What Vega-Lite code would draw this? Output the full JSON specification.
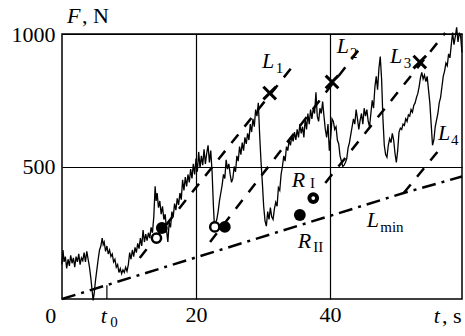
{
"$schema":"https://vega.github.io/schema/vega-lite/v6.json",
"width":400,"height":265,
"autosize":{"type":"none"},
"padding":{"left":62,"top":34,"right":3,"bottom":37},
"background":"white",
"config":{"view":{"stroke":"black","strokeWidth":1.5},"font":"Liberation Serif","axis":{"labelFont":"Liberation Serif"}},
"datasets":{
"force":[
{"t":0.0,"F":130},{"t":0.15,"F":185},{"t":0.3,"F":140},{"t":0.5,"F":160},{"t":0.7,"F":115},{"t":0.9,"F":150},{"t":1.1,"F":125},{"t":1.3,"F":165},{"t":1.5,"F":135},{"t":1.7,"F":155},{"t":1.9,"F":120},{"t":2.1,"F":160},{"t":2.3,"F":140},{"t":2.5,"F":170},{"t":2.7,"F":130},{"t":2.9,"F":155},{"t":3.1,"F":145},{"t":3.3,"F":175},{"t":3.5,"F":140},{"t":3.7,"F":180},{"t":3.9,"F":150},{"t":4.1,"F":120},{"t":4.3,"F":80},{"t":4.5,"F":30},{"t":4.65,"F":-5},{"t":4.8,"F":20},{"t":5.0,"F":70},{"t":5.2,"F":110},{"t":5.4,"F":150},{"t":5.6,"F":185},{"t":5.8,"F":200},{"t":6.0,"F":230},{"t":6.15,"F":205},{"t":6.3,"F":215},{"t":6.5,"F":180},{"t":6.7,"F":200},{"t":6.9,"F":170},{"t":7.1,"F":185},{"t":7.3,"F":160},{"t":7.5,"F":170},{"t":7.7,"F":140},{"t":7.9,"F":150},{"t":8.1,"F":120},{"t":8.3,"F":130},{"t":8.5,"F":100},{"t":8.7,"F":115},{"t":8.9,"F":95},{"t":9.1,"F":110},{"t":9.3,"F":100},{"t":9.5,"F":120},{"t":9.7,"F":105},{"t":9.9,"F":130},{"t":10.1,"F":175},{"t":10.3,"F":150},{"t":10.5,"F":185},{"t":10.7,"F":160},{"t":10.9,"F":195},{"t":11.1,"F":175},{"t":11.3,"F":210},{"t":11.5,"F":190},{"t":11.7,"F":230},{"t":11.9,"F":200},{"t":12.1,"F":260},{"t":12.3,"F":215},{"t":12.5,"F":245},{"t":12.7,"F":220},{"t":12.9,"F":250},{"t":13.1,"F":230},{"t":13.3,"F":270},{"t":13.5,"F":250},{"t":13.7,"F":310},{"t":13.9,"F":425},{"t":14.05,"F":370},{"t":14.2,"F":400},{"t":14.4,"F":345},{"t":14.6,"F":370},{"t":14.8,"F":320},{"t":15.0,"F":350},{"t":15.2,"F":300},{"t":15.4,"F":320},{"t":15.6,"F":260},{"t":15.8,"F":215},{"t":16.0,"F":290},{"t":16.2,"F":270},{"t":16.4,"F":330},{"t":16.6,"F":310},{"t":16.8,"F":360},{"t":17.0,"F":335},{"t":17.2,"F":380},{"t":17.4,"F":355},{"t":17.6,"F":400},{"t":17.8,"F":375},{"t":18.0,"F":450},{"t":18.2,"F":410},{"t":18.4,"F":460},{"t":18.6,"F":425},{"t":18.8,"F":470},{"t":19.0,"F":440},{"t":19.2,"F":490},{"t":19.4,"F":455},{"t":19.6,"F":510},{"t":19.8,"F":470},{"t":20.0,"F":530},{"t":20.2,"F":480},{"t":20.4,"F":555},{"t":20.6,"F":495},{"t":20.8,"F":540},{"t":21.0,"F":505},{"t":21.2,"F":565},{"t":21.4,"F":510},{"t":21.6,"F":550},{"t":21.8,"F":580},{"t":22.0,"F":515},{"t":22.2,"F":560},{"t":22.4,"F":480},{"t":22.6,"F":350},{"t":22.75,"F":275},{"t":22.9,"F":285},{"t":23.1,"F":300},{"t":23.3,"F":330},{"t":23.5,"F":370},{"t":23.7,"F":400},{"t":23.9,"F":430},{"t":24.1,"F":470},{"t":24.3,"F":455},{"t":24.5,"F":525},{"t":24.7,"F":490},{"t":24.9,"F":510},{"t":25.1,"F":470},{"t":25.3,"F":440},{"t":25.5,"F":455},{"t":25.7,"F":500},{"t":25.9,"F":480},{"t":26.1,"F":540},{"t":26.3,"F":520},{"t":26.5,"F":575},{"t":26.7,"F":545},{"t":26.9,"F":590},{"t":27.1,"F":560},{"t":27.3,"F":610},{"t":27.5,"F":585},{"t":27.7,"F":625},{"t":27.9,"F":600},{"t":28.1,"F":660},{"t":28.3,"F":630},{"t":28.5,"F":680},{"t":28.7,"F":650},{"t":28.9,"F":715},{"t":29.1,"F":690},{"t":29.3,"F":740},{"t":29.5,"F":620},{"t":29.7,"F":520},{"t":29.9,"F":440},{"t":30.1,"F":350},{"t":30.3,"F":295},{"t":30.5,"F":275},{"t":30.7,"F":330},{"t":30.9,"F":300},{"t":31.1,"F":345},{"t":31.3,"F":310},{"t":31.5,"F":300},{"t":31.7,"F":340},{"t":31.9,"F":365},{"t":32.1,"F":350},{"t":32.3,"F":420},{"t":32.5,"F":410},{"t":32.7,"F":470},{"t":32.9,"F":500},{"t":33.1,"F":540},{"t":33.3,"F":520},{"t":33.5,"F":575},{"t":33.7,"F":560},{"t":33.9,"F":600},{"t":34.1,"F":580},{"t":34.3,"F":615},{"t":34.5,"F":595},{"t":34.7,"F":630},{"t":34.9,"F":600},{"t":35.1,"F":640},{"t":35.3,"F":610},{"t":35.5,"F":660},{"t":35.7,"F":625},{"t":35.9,"F":650},{"t":36.1,"F":610},{"t":36.3,"F":680},{"t":36.5,"F":640},{"t":36.7,"F":700},{"t":36.9,"F":660},{"t":37.1,"F":715},{"t":37.3,"F":680},{"t":37.5,"F":720},{"t":37.7,"F":700},{"t":37.9,"F":780},{"t":38.1,"F":690},{"t":38.3,"F":670},{"t":38.5,"F":720},{"t":38.7,"F":700},{"t":38.9,"F":745},{"t":39.1,"F":690},{"t":39.3,"F":640},{"t":39.5,"F":610},{"t":39.7,"F":660},{"t":39.9,"F":560},{"t":40.1,"F":610},{"t":40.3,"F":680},{"t":40.5,"F":670},{"t":40.7,"F":640},{"t":40.9,"F":650},{"t":41.1,"F":600},{"t":41.3,"F":585},{"t":41.5,"F":540},{"t":41.7,"F":520},{"t":41.9,"F":500},{"t":42.1,"F":505},{"t":42.3,"F":515},{"t":42.5,"F":530},{"t":42.7,"F":570},{"t":42.9,"F":590},{"t":43.1,"F":620},{"t":43.3,"F":650},{"t":43.5,"F":680},{"t":43.7,"F":660},{"t":43.9,"F":715},{"t":44.1,"F":680},{"t":44.3,"F":640},{"t":44.5,"F":675},{"t":44.7,"F":700},{"t":44.9,"F":660},{"t":45.1,"F":720},{"t":45.3,"F":690},{"t":45.5,"F":715},{"t":45.7,"F":670},{"t":45.9,"F":650},{"t":46.1,"F":700},{"t":46.3,"F":750},{"t":46.5,"F":720},{"t":46.7,"F":800},{"t":46.9,"F":840},{"t":47.1,"F":790},{"t":47.3,"F":870},{"t":47.5,"F":915},{"t":47.7,"F":830},{"t":47.9,"F":680},{"t":48.1,"F":580},{"t":48.3,"F":545},{"t":48.5,"F":535},{"t":48.7,"F":580},{"t":48.9,"F":605},{"t":49.1,"F":590},{"t":49.3,"F":625},{"t":49.5,"F":600},{"t":49.7,"F":550},{"t":49.9,"F":515},{"t":50.1,"F":560},{"t":50.3,"F":630},{"t":50.5,"F":645},{"t":50.7,"F":640},{"t":50.9,"F":660},{"t":51.1,"F":655},{"t":51.3,"F":680},{"t":51.5,"F":670},{"t":51.7,"F":695},{"t":51.9,"F":690},{"t":52.1,"F":715},{"t":52.3,"F":705},{"t":52.5,"F":730},{"t":52.7,"F":740},{"t":52.9,"F":760},{"t":53.1,"F":775},{"t":53.3,"F":800},{"t":53.5,"F":835},{"t":53.7,"F":855},{"t":53.9,"F":830},{"t":54.1,"F":845},{"t":54.3,"F":820},{"t":54.5,"F":840},{"t":54.7,"F":790},{"t":54.9,"F":740},{"t":55.1,"F":660},{"t":55.3,"F":580},{"t":55.5,"F":600},{"t":55.7,"F":650},{"t":55.9,"F":675},{"t":56.1,"F":700},{"t":56.3,"F":740},{"t":56.5,"F":760},{"t":56.7,"F":800},{"t":56.9,"F":840},{"t":57.1,"F":860},{"t":57.3,"F":890},{"t":57.5,"F":880},{"t":57.7,"F":925},{"t":57.9,"F":910},{"t":58.1,"F":960},{"t":58.3,"F":1005},{"t":58.5,"F":960},{"t":58.7,"F":990},{"t":58.9,"F":1025},{"t":59.1,"F":970},{"t":59.3,"F":1005},{"t":59.5,"F":990},{"t":59.7,"F":930}
],
"dashed":[
{"name":"L1","t":11.6,"F":155},{"name":"L1","t":34.3,"F":874},
{"name":"L2","t":22.1,"F":215},{"name":"L2","t":44.5,"F":947},
{"name":"L3","t":39.3,"F":438},{"name":"L3","t":57.2,"F":1004},
{"name":"L4","t":51.0,"F":400},{"name":"L4","t":56.2,"F":560}
],
"lmin":[{"t":0,"F":0},{"t":51.0,"F":400},{"t":59.7,"F":462}],
"tick":[{"t":6.7,"F":0,"F2":52}],
"openPts":[{"t":14.1,"F":230},{"t":22.8,"F":272}],
"filledPts":[{"t":14.9,"F":268},{"t":24.3,"F":272},{"t":35.5,"F":317}],
"ringPts":[{"t":37.5,"F":381}],
"crosses":[{"t":31.0,"F":777},{"t":40.3,"F":819},{"t":53.4,"F":894}],
"italic":[{"t":29.85,"F":872,"s":"L"},{"t":41.0,"F":928,"s":"L"},{"t":48.96,"F":891,"s":"L"},{"t":56.1,"F":600,"s":"L"},{"t":34.3,"F":423,"s":"R"},{"t":35.2,"F":192,"s":"R"},{"t":45.5,"F":272,"s":"L"},{"t":5.8,"F":-91,"s":"t"},{"t":55.5,"F":-91,"s":"t"},{"t":0.75,"F":1042,"s":"F"}],
"subs":[{"t":31.9,"F":853,"s":"1"},{"t":43.0,"F":909,"s":"2"},{"t":51.0,"F":872,"s":"3"},{"t":58.06,"F":581,"s":"4"},{"t":37.0,"F":419,"s":"I"},{"t":37.5,"F":177,"s":"II"},{"t":47.5,"F":253,"s":"min"},{"t":7.2,"F":-106,"s":"0"}],
"roman":[{"t":56.7,"F":-91,"s":", s"},{"t":3.0,"F":1042,"s":", N"},{"t":-2.5,"F":-91,"s":"0"}]
},
"encoding":{
"x":{"field":"t","type":"quantitative","scale":{"domain":[0,59.7],"nice":false,"zero":false},
"axis":{"values":[20,40],"format":"d","grid":true,"ticks":false,"domain":false,"title":null,"labelFont":"Liberation Serif","labelFontSize":22,"labelColor":"black","labelPadding":5,"gridColor":"black","gridOpacity":1,"gridWidth":1.2,"labelFlush":false}},
"y":{"field":"F","type":"quantitative","scale":{"domain":[0,1000],"nice":false,"zero":false},
"axis":{"values":[500,1000],"format":"d","grid":true,"ticks":false,"domain":false,"title":null,"labelFont":"Liberation Serif","labelFontSize":22,"labelColor":"black","labelPadding":7,"gridColor":"black","gridOpacity":1,"gridWidth":1.2,"labelFlush":false}}
},
"layer":[
{"data":{"name":"force"},"mark":{"type":"line","color":"black","strokeWidth":1.3},"encoding":{"order":{"field":"t"}}},
{"data":{"name":"dashed"},"mark":{"type":"line","color":"black","strokeWidth":2.5,"strokeDash":[11,10]},"encoding":{"detail":{"field":"name"}}},
{"data":{"name":"lmin"},"mark":{"type":"line","color":"black","strokeWidth":2.5,"strokeDash":[14,6,3,6]},"encoding":{}},
{"data":{"name":"tick"},"mark":{"type":"rule","color":"black","strokeWidth":1.2},"encoding":{"y2":{"field":"F2"}}},
{"data":{"name":"openPts"},"mark":{"type":"point","shape":"circle","filled":false,"fill":"white","fillOpacity":1,"stroke":"black","strokeWidth":2.5,"size":85,"opacity":1}},
{"data":{"name":"filledPts"},"mark":{"type":"point","shape":"circle","filled":true,"color":"black","size":140,"opacity":1}},
{"data":{"name":"ringPts"},"mark":{"type":"point","shape":"circle","filled":false,"fill":"white","fillOpacity":1,"stroke":"black","strokeWidth":4,"size":60,"opacity":1}},
{"data":{"name":"crosses"},"mark":{"type":"point","shape":"M-1,-1L1,1M-1,1L1,-1","filled":false,"stroke":"black","strokeWidth":3,"size":160,"opacity":1}},
{"data":{"name":"italic"},"mark":{"type":"text","font":"Liberation Serif","fontStyle":"italic","fontSize":22,"align":"left","baseline":"alphabetic","color":"black"},"encoding":{"text":{"field":"s"}}},
{"data":{"name":"subs"},"mark":{"type":"text","font":"Liberation Serif","fontSize":15,"align":"left","baseline":"alphabetic","color":"black"},"encoding":{"text":{"field":"s"}}},
{"data":{"name":"roman"},"mark":{"type":"text","font":"Liberation Serif","fontSize":22,"align":"left","baseline":"alphabetic","color":"black"},"encoding":{"text":{"field":"s"}}}
]
}
